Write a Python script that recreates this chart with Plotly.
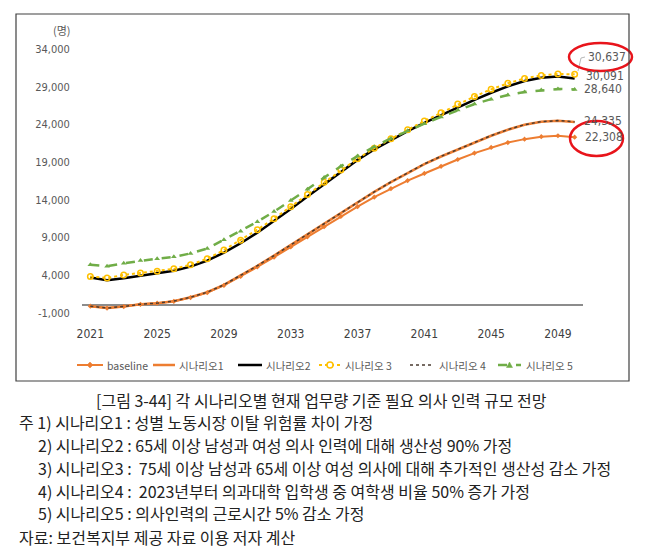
import plotly.graph_objects as go

# 연도 (2021 ~ 2050)
years = list(range(2021, 2051))

# 시나리오별 필요 의사 인력 (명) - 그림에서 읽은 값
baseline = [-100, -350, -150, 150, 300, 550, 1050, 1700, 2650, 3850,
            5100, 6400, 7750, 9100, 10450, 11800, 13100, 14350, 15500, 16550,
            17500, 18450, 19350, 20200, 20950, 21600, 22050, 22380, 22500, 22308]
scenario1 = [-100, -350, -150, 150, 300, 570, 1080, 1750, 2720, 3950,
             5250, 6600, 8000, 9400, 10850, 12300, 13700, 15050, 16350, 17600,
             18750, 19750, 20700, 21650, 22500, 23300, 23950, 24350, 24500, 24335]
scenario2 = [3700, 3350, 3600, 3950, 4250, 4600, 5150, 5950, 7000, 8250,
             9650, 11200, 12800, 14450, 16100, 17750, 19300, 20700, 21950, 23100,
             24200, 25250, 26250, 27250, 28200, 29050, 29750, 30200, 30350, 30091]
scenario3 = [3850, 3650, 4050, 4300, 4550, 4850, 5400, 6200, 7350, 8650,
             10050, 11500, 13100, 14700, 16350, 17950, 19450, 20850, 22100, 23300,
             24450, 25550, 26700, 27700, 28650, 29450, 30100, 30500, 30700, 30637]
scenario4 = [-100, -340, -140, 160, 310, 580, 1090, 1760, 2740, 3970,
             5270, 6620, 8020, 9420, 10870, 12320, 13720, 15070, 16370, 17620,
             18770, 19770, 20720, 21670, 22520, 23320, 23970, 24360, 24510, 24335]
scenario5 = [5400, 5200, 5600, 5950, 6200, 6450, 6900, 7550, 8700, 9850,
             11100, 12450, 13900, 15400, 16950, 18450, 19800, 21050, 22150, 23150,
             24100, 25000, 25900, 26700, 27350, 27900, 28300, 28550, 28700, 28640]

series_names = ["baseline", "시나리오1", "시나리오2", "시나리오 3", "시나리오 4", "시나리오 5"]

y_ticks = [-1000, 4000, 9000, 14000, 19000, 24000, 29000, 34000]
y_ticktext = ["-1,000", "4,000", "9,000", "14,000", "19,000", "24,000", "29,000", "34,000"]
x_ticks = [2021, 2025, 2029, 2033, 2037, 2041, 2045, 2049]

notes = [
    "주 1) 시나리오1 : 성별 노동시장 이탈 위험률 차이 가정",
    "2) 시나리오2 : 65세 이상 남성과 여성 의사 인력에 대해 생산성 90% 가정",
    "3) 시나리오3 :  75세 이상 남성과 65세 이상 여성 의사에 대해 추가적인 생산성 감소 가정",
    "4) 시나리오4 :  2023년부터 의과대학 입학생 중 여학생 비율 50% 증가 가정",
    "5) 시나리오5 : 의사인력의 근로시간 5% 감소 가정",
]
caption = "[그림 3-44] 각 시나리오별 현재 업무량 기준 필요 의사 인력 규모 전망"
source = "자료: 보건복지부 제공 자료 이용 저자 계산"

W, H = 651, 554
OFF = 8                      # 페이지 body 여백 보정
REF_L, REF_T = 82, 49        # 그림 기준 플롯 영역 좌상단
PW, PH = 501, 264
L, T = REF_L - OFF, REF_T - OFF
R, B = W - L - PW, H - T - PH


def px(x):
    return (x - REF_L) / PW


def py(y):
    return (REF_T + PH - y) / PH


KR = "Noto Sans CJK KR"
NUM = "Liberation Sans Narrow, DejaVu Sans Condensed, Roboto, sans-serif"
ORANGE, BLACK, YELLOW, DARK, GREEN = "#ED7D31", "#000000", "#FFC000", "#4a3b30", "#70AD47"

fig = go.Figure()
fig.add_trace(go.Scatter(x=years, y=baseline, name=series_names[0], mode="lines+markers",
                         line=dict(color=ORANGE, width=2),
                         marker=dict(symbol="diamond", size=4, color=ORANGE)))
fig.add_trace(go.Scatter(x=years, y=scenario1, name=series_names[1], mode="lines",
                         line=dict(color=ORANGE, width=2.5)))
fig.add_trace(go.Scatter(x=years, y=scenario2, name=series_names[2], mode="lines",
                         line=dict(color=BLACK, width=2.5)))
fig.add_trace(go.Scatter(x=years, y=scenario3, name=series_names[3], mode="lines+markers",
                         line=dict(color=YELLOW, width=2, dash="dot"),
                         marker=dict(symbol="circle-open", size=5.5, color=YELLOW,
                                     line=dict(width=1.5))))
fig.add_trace(go.Scatter(x=years, y=scenario4, name=series_names[4], mode="lines",
                         line=dict(color=DARK, width=1.5, dash="dot")))
fig.add_trace(go.Scatter(x=years, y=scenario5, name=series_names[5], mode="lines+markers",
                         line=dict(color=GREEN, width=2.5, dash="dash"),
                         marker=dict(symbol="triangle-up", size=5, color=GREEN)))

# 끝값 레이블
end_labels = [
    (scenario3[-1], 11, 17),
    (scenario2[-1], 9, 2),
    (scenario5[-1], 7, 0),
    (scenario4[-1], 7, 1),
    (baseline[-1], 8, 0),
]
for val, xs, ys in end_labels:
    fig.add_annotation(x=years[-1], y=val, text=f"{val:,}", showarrow=False,
                       xanchor="left", yanchor="middle", xshift=xs, yshift=ys,
                       font=dict(family=NUM, size=12, color="#595959"))
# 30,637 지시선
fig.add_shape(type="path", xref="paper", yref="paper",
              path=f"M {px(578)} {py(71)} L {px(581)} {py(58)} L {px(585)} {py(57)}",
              line=dict(color="#a6a6a6", width=0.8))

# 빨간 동그라미
fig.add_shape(type="circle", xref="paper", yref="paper",
              x0=px(569), x1=px(632), y0=py(71), y1=py(43),
              line=dict(color="#E8141B", width=2.5))
fig.add_shape(type="circle", xref="paper", yref="paper",
              x0=px(570), x1=px(623), y0=py(156), y1=py(121),
              line=dict(color="#E8141B", width=2.5))

# 차트 테두리
fig.add_shape(type="rect", xref="paper", yref="paper",
              x0=px(16), x1=px(629), y0=py(381), y1=py(14),
              line=dict(color="#404040", width=1.2))

# 범례 (직접 그림)
leg_y = 365
leg_items = [
    (77, 103, 105, ORANGE, 2, "solid", "diamond"),
    (153, 175, 177, ORANGE, 2.5, "solid", None),
    (238, 262, 264, BLACK, 2.5, "solid", None),
    (319, 341, 343, YELLOW, 2, "dot", "circle-open"),
    (410, 434, 437, DARK, 1.5, "dot", None),
    (498, 521, 524, GREEN, 2.5, "dash", "triangle"),
]
for (x0, x1, tx, col, lw, dash, mk), name in zip(leg_items, series_names):
    fig.add_shape(type="line", xref="paper", yref="paper",
                  x0=px(x0), x1=px(x1), y0=py(leg_y), y1=py(leg_y),
                  line=dict(color=col, width=lw, dash=dash))
    cx = (x0 + x1) / 2
    if mk == "diamond":
        fig.add_shape(type="path", xref="paper", yref="paper",
                      path=f"M {px(cx-3)} {py(leg_y)} L {px(cx)} {py(leg_y-3)} "
                           f"L {px(cx+3)} {py(leg_y)} L {px(cx)} {py(leg_y+3)} Z",
                      fillcolor=col, line=dict(color=col, width=0.5))
    elif mk == "circle-open":
        fig.add_shape(type="circle", xref="paper", yref="paper",
                      x0=px(cx-3), x1=px(cx+3), y0=py(leg_y+3), y1=py(leg_y-3),
                      fillcolor="white", line=dict(color=col, width=1.5))
    elif mk == "triangle":
        fig.add_shape(type="path", xref="paper", yref="paper",
                      path=f"M {px(cx-3)} {py(leg_y+2.5)} L {px(cx+3)} {py(leg_y+2.5)} "
                           f"L {px(cx)} {py(leg_y-3)} Z",
                      fillcolor=col, line=dict(color=col, width=0.5))
    fig.add_annotation(x=px(tx), y=py(leg_y), xref="paper", yref="paper", text=name,
                       showarrow=False, xanchor="left", yanchor="middle",
                       font=dict(family=KR, size=10.5, color="#595959"))

# 단위
fig.add_annotation(x=px(62), y=py(30), xref="paper", yref="paper", text="(명)",
                   showarrow=False, xanchor="center", yanchor="middle",
                   font=dict(family=KR, size=11, color="#595959"))

# 그림 제목 및 주석
fig.add_annotation(x=px(321), y=py(400), xref="paper", yref="paper", text=caption,
                   showarrow=False, xanchor="center", yanchor="middle",
                   font=dict(family=KR, size=16, color="#222222"))
note_x = [17, 36, 36, 36, 36]
note_y = [422, 445, 468, 491, 513]
for t, nx, ny in zip(notes, note_x, note_y):
    fig.add_annotation(x=px(nx), y=py(ny), xref="paper", yref="paper", text=t,
                       showarrow=False, xanchor="left", yanchor="middle",
                       font=dict(family=KR, size=16, color="#222222"))
fig.add_annotation(x=px(17), y=py(537), xref="paper", yref="paper", text=source,
                   showarrow=False, xanchor="left", yanchor="middle",
                   font=dict(family=KR, size=16, color="#222222"))

fig.update_layout(
    width=W, height=H,
    margin=dict(l=L, r=R, t=T, b=B),
    paper_bgcolor="white", plot_bgcolor="white",
    showlegend=False,
    xaxis=dict(range=[2020.5, 2050.5], tickvals=x_ticks, showgrid=False,
               zeroline=False, showline=False, ticks="outside", ticklen=10,
               tickcolor="rgba(0,0,0,0)",
               tickfont=dict(family=NUM, size=12, color="#404040")),
    yaxis=dict(range=[-1000, 34000], tickvals=y_ticks, ticktext=y_ticktext,
               showgrid=False, zeroline=True, zerolinecolor="#8c8c8c",
               zerolinewidth=1.5, showline=False, ticks="outside", ticklen=9,
               tickcolor="rgba(0,0,0,0)",
               tickfont=dict(family=NUM, size=11, color="#595959")),
)

fig.write_html("out.html")
